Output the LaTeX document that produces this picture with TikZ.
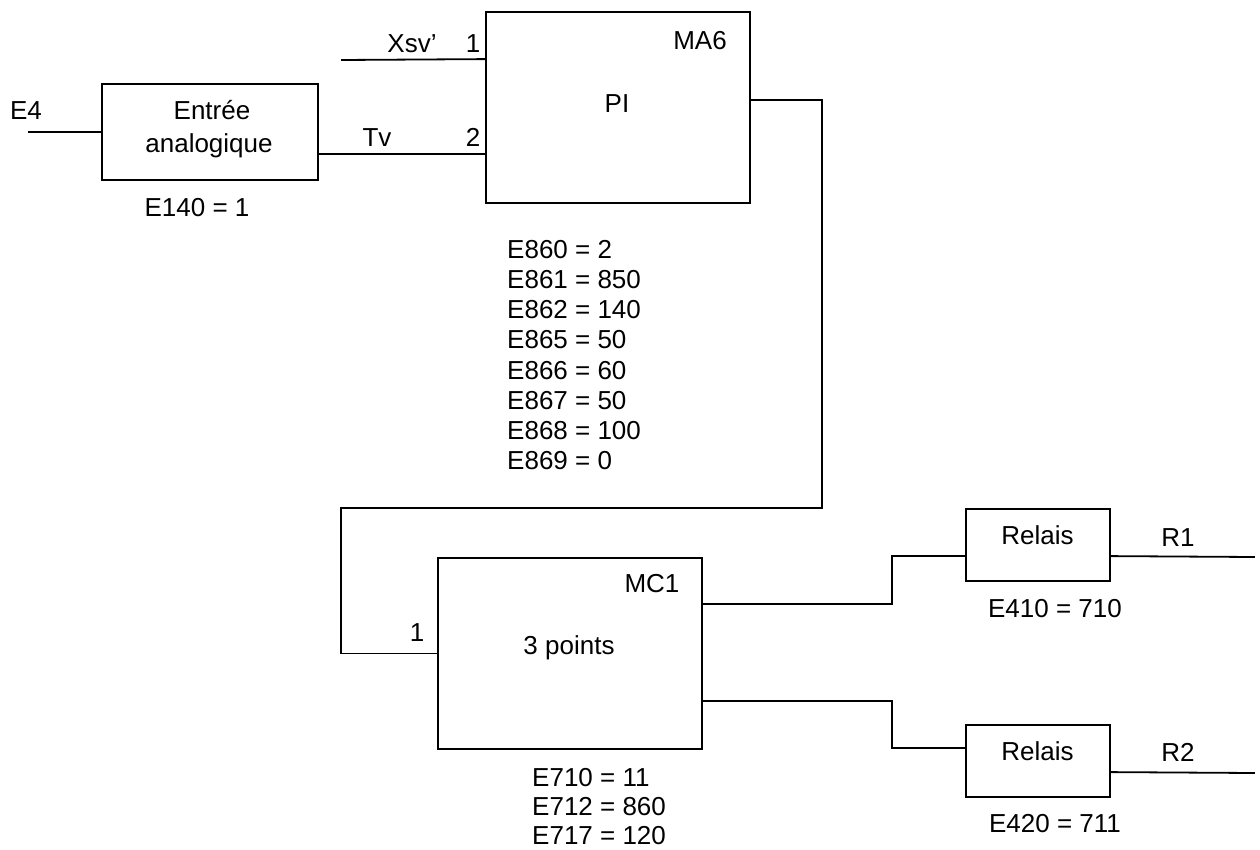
\documentclass[tikz,border=0pt]{standalone}
\usepackage{fontspec}
\setmainfont{Liberation Sans}
\usetikzlibrary{calc}
\begin{document}
\begin{tikzpicture}[x=1pt,y=-1pt,
  wire/.style={line width=1.8pt, line cap=rect},
  blk/.style={draw, line width=1.8pt, rectangle, inner sep=0pt},
  lbl/.style={inner sep=0pt, text height=18.6pt, text depth=0pt, font=\fontsize{26}{30}\selectfont},
  lbll/.style={lbl, anchor=west}]
\useasboundingbox (0,0) rectangle (1260,850);
% blocks
\node[blk, minimum width=216pt, minimum height=96pt] (ent) at (210,132) {};
\node[blk, minimum width=264pt, minimum height=191pt] (ma6) at (618,107.5) {};
\node[blk, minimum width=264pt, minimum height=191pt] (mc1) at (570,653.5) {};
\node[blk, minimum width=144pt, minimum height=72pt] (rel1) at (1038,545) {};
\node[blk, minimum width=144pt, minimum height=72pt] (rel2) at (1038,761) {};
% ports
\coordinate (e4end) at (29,132);
\coordinate (xsvend) at (342,60);
\coordinate (ma6in1) at ($(ma6.north west)+(0,48)$);
\coordinate (ma6in2) at ($(ma6.north west)+(0,143)$);
\coordinate (ma6out) at ($(ma6.north east)+(0,89)$);
\coordinate (mc1o1) at ($(mc1.north east)+(0,47)$);
\coordinate (mc1o2) at ($(mc1.north east)+(0,144)$);
\coordinate (rel1in) at ($(rel1.north west)+(0,48)$);
\coordinate (rel2in) at ($(rel2.north west)+(0,24)$);
\coordinate (rel1out) at ($(rel1.north east)+(0,48)$);
\coordinate (rel2out) at ($(rel2.north east)+(0,48)$);
\coordinate (r1end) at (1254,557);
\coordinate (r2end) at (1254,773);
% wires
\draw[wire] (e4end) -- (ent.west);
\draw[wire] (xsvend) -- (ma6in1);
\draw[wire] (ent.east |- ma6in2) -- (ma6in2);
\draw[wire] (ma6out) -- ++(71,0) -- ++(0,408) -| ($(mc1.west)+(-96,0)$) -- (mc1.west);
\draw[wire] (mc1o1) -| ($(rel1in)+(-73,0)$) -- (rel1in);
\draw[wire] (mc1o2) -| ($(rel2in)+(-73,0)$) -- (rel2in);
\draw[wire] (rel1out) -- (r1end);
\draw[wire] (rel2out) -- (r2end);
% labels
\node[lbl] (e4) at (26,110) {E4};
\node[lbl] (entl1) at (212,110) {Entrée};
\node[lbl] (entl2) at (209,143) {analogique};
\node[lbl] (e140) at (197,207) {E140 = 1};
\node[lbl] (xsv) at (412,43) {Xsv’};
\node[lbl] (p1) at (473,43) {1};
\node[lbl] (tv) at (377,137) {Tv};
\node[lbl] (p2) at (473,137) {2};
\node[lbl] (ma6n) at (700,40) {MA6};
\node[lbl] (pi) at (617,103) {PI};
\foreach \t [count=\i from 0] in {E860 = 2, E861 = 850, E862 = 140, E865 = 50, E866 = 60, E867 = 50, E868 = 100, E869 = 0}
  \node[lbll] (pa\i) at (507,249+30.2*\i) {\t};
\node[lbl] (mc1p) at (417,632) {1};
\node[lbl] (mc1n) at (652,583) {MC1};
\node[lbl] (pts) at (569,645) {3 points};
\foreach \t [count=\i from 0] in {E710 = 11, E712 = 860, E717 = 120}
  \node[lbll] (pb\i) at (532,777+29*\i) {\t};
\node[lbl] (rl1) at (1037.5,535) {Relais};
\node[lbl] (rl2) at (1037.5,751) {Relais};
\node[lbl] (r1) at (1178,537) {R1};
\node[lbl] (r2) at (1178,752) {R2};
\node[lbl] (e410) at (1055,608) {E410 = 710};
\node[lbl] (e420) at (1055,823) {E420 = 711};
\end{tikzpicture}
\end{document}
